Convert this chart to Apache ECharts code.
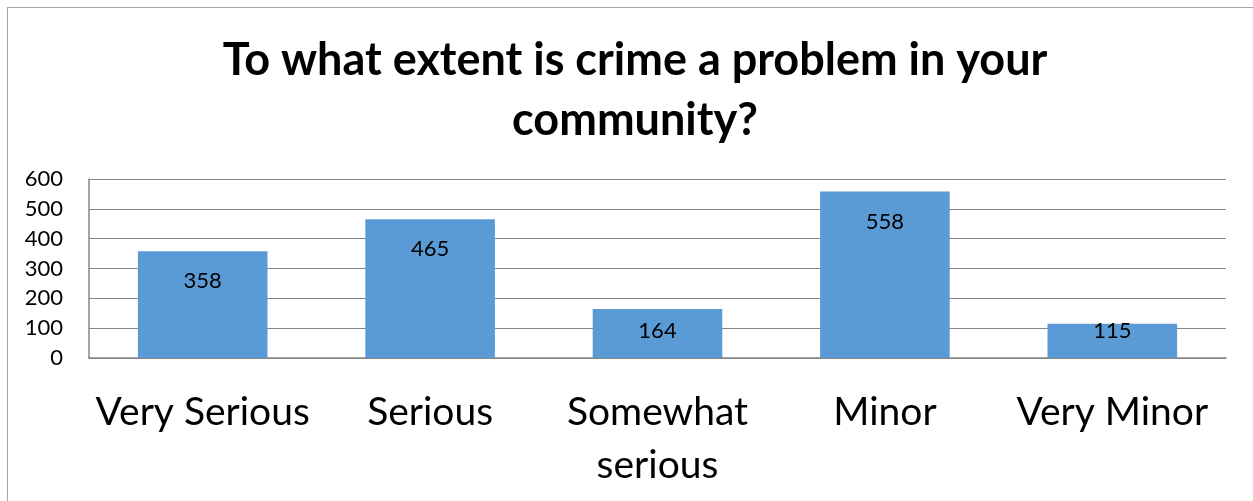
<!DOCTYPE html>
<html>
<head>
<meta charset="utf-8">
<title>crime chart</title>
<script src="https://cdn.jsdelivr.net/npm/echarts@6/dist/echarts.min.js"></script>
<style>
  html, body { margin: 0; padding: 0; background: #fff; }
  #box { position: absolute; left: 7px; top: 7px; width: 1260px; height: 520px; border: 1.5px solid #a6a6a6; }
  #chart { width: 1253px; height: 501px; }
</style>
</head>
<body>
<div id="box"></div>
<div id="chart"></div>
<script>
// data
var categories = ['Very Serious', 'Serious', 'Somewhat\nserious', 'Minor', 'Very Minor'];
var counts = [358, 465, 164, 558, 115];
var yTicks = [0, 100, 200, 300, 400, 500, 600];

var plotH = 179; // grid height in px (501 - 179 - 143)
var yMax = yTicks[yTicks.length - 1];

// excel keeps the label inside short bars, so push it up when the bar is small
var barData = counts.map(function (v) {
  var h = v / yMax * plotH;
  var c = Math.min(30, h - 27);
  return { value: v, label: { offset: [0, c - 11] } };
});

var chart = echarts.init(document.getElementById('chart'));
chart.setOption({
  animation: false,
  title: {
    text: 'To what extent is crime a problem in your\ncommunity?',
    left: 630,
    textAlign: 'center',
    top: 25,
    textStyle: { fontFamily: 'Lato', fontWeight: 'bold', fontSize: 45, lineHeight: 60, color: '#000' }
  },
  grid: { left: 89, right: 27, top: 179, bottom: 143 },
  xAxis: {
    type: 'category',
    data: categories,
    axisLine: { lineStyle: { color: '#868686', width: 1.5 } },
    axisTick: { show: false },
    axisLabel: {
      fontFamily: 'Lato', fontSize: 39, color: '#000', lineHeight: 53, margin: 28, interval: 0
    }
  },
  yAxis: {
    type: 'value',
    min: yTicks[0],
    max: yMax,
    interval: 100,
    axisLine: { show: true, lineStyle: { color: '#868686', width: 1.5 } },
    axisTick: { show: false },
    splitLine: { lineStyle: { color: '#868686', width: 1.2 } },
    axisLabel: { fontFamily: 'Lato', fontSize: 22, color: '#000', margin: 26 }
  },
  series: [{
    type: 'bar',
    data: barData,
    barCategoryGap: '43%',
    itemStyle: { color: '#5b9bd5' },
    label: {
      show: true, position: 'insideTop', distance: 0,
      fontFamily: 'Lato', fontSize: 22, color: '#000'
    }
  }]
});
</script>
</body>
</html>
